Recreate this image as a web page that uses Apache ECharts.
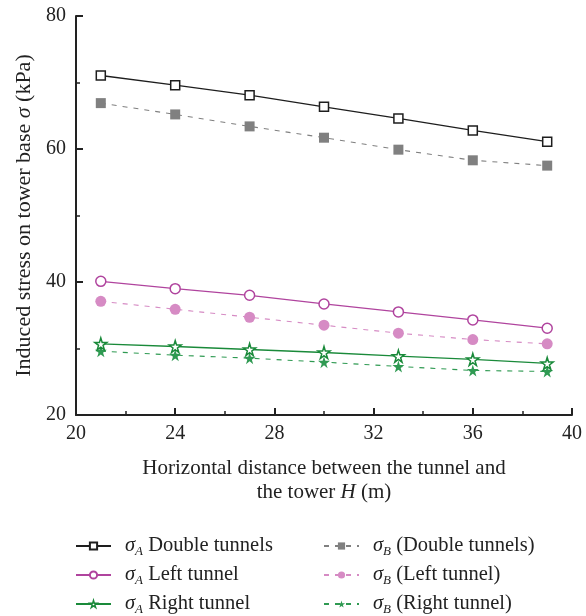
<!DOCTYPE html>
<html>
<head>
<meta charset="utf-8">
<script src="https://cdn.jsdelivr.net/npm/echarts@6/dist/echarts.min.js"></script>
<style>
  html, body { margin: 0; padding: 0; background: #fff; }
  #main { width: 586px; height: 616px; }
</style>
</head>
<body>
<div id="main"></div>
<script>
// distance H (m)
const distances = [21, 24, 27, 30, 33, 36, 39];

// sigma A (solid lines)
const aDouble = [71.05, 69.6, 68.1, 66.35, 64.6, 62.8, 61.1];
const aLeft = [40.1, 39.0, 38.0, 36.7, 35.5, 34.3, 33.05];
const aRight = [30.7, 30.3, 29.85, 29.4, 28.85, 28.35, 27.75];

// sigma B (dashed lines)
const bDouble = [66.9, 65.2, 63.4, 61.7, 59.9, 58.3, 57.5];
const bLeft = [37.1, 35.9, 34.7, 33.5, 32.3, 31.35, 30.7];
const bRight = [29.6, 29.0, 28.55, 27.95, 27.3, 26.7, 26.55];

const xTicks = [20, 24, 28, 32, 36, 40];
const yTicks = [20, 40, 60, 80];

const FONT = 'Liberation Serif';
const STAR = 'path://M50,0 L61,35 L98,35 L68,57 L79,91 L50,70 L21,91 L32,57 L2,35 L39,35 Z';

const pairs = (ys) => distances.map((x, i) => [x, ys[i]]);

// rich text pieces (s = italic symbol, sub = subscript, t = plain)
function richSet(size, lh) {
  return {
    s: { fontFamily: FONT, fontStyle: 'italic', fontSize: size, color: '#222', lineHeight: lh },
    s0: { fontFamily: FONT, fontStyle: 'italic', fontSize: size, color: '#222', lineHeight: lh, padding: [0, 0, 0, 9] },
    sub: { fontFamily: FONT, fontStyle: 'italic', fontSize: 13, color: '#222', lineHeight: lh, padding: [11, 0, 0, 0] },
    t: { fontFamily: FONT, fontSize: size, color: '#222', lineHeight: lh },
  };
}

function solid(name, data, color, symbol, size) {
  return {
    name, type: 'line', data: pairs(data),
    symbol, symbolSize: size,
    lineStyle: { color, width: 1.3, type: 'solid' },
    itemStyle: { color: '#fff', borderColor: color, borderWidth: 1.5 },
    z: 3,
  };
}

function dashed(name, data, color, symbol, size) {
  return {
    name, type: 'line', data: pairs(data),
    symbol, symbolSize: size,
    lineStyle: { color, width: 1.1, type: [5, 6] },
    itemStyle: { color, borderWidth: 0 },
    z: 2,
  };
}

const chart = echarts.init(document.getElementById('main'));

const legendBase = {
  orient: 'vertical',
  top: 534,
  height: 120,
  itemWidth: 35,
  itemHeight: 9,
  itemGap: 5,
  padding: 0,
  textStyle: { fontFamily: FONT, fontSize: 20.5, color: '#222', rich: richSet(20.5, 21) },
};

const option = {
  backgroundColor: '#fff',
  animation: false,
  grid: { left: 76, right: 14, top: 16, bottom: 201, containLabel: false },
  xAxis: {
    type: 'value', min: 20, max: 40, interval: 4,
    name: '{t|Horizontal distance between the tunnel and}\n{t|the tower }{s|H}{t| (m)}',
    nameLocation: 'middle', nameGap: 41,
    nameTextStyle: { lineHeight: 24, rich: richSet(21, 24) },
    axisLine: { lineStyle: { color: '#222', width: 2 } },
    axisTick: { inside: true, length: 7, lineStyle: { color: '#222', width: 2 } },
    minorTick: { show: true, splitNumber: 2, length: 4, lineStyle: { color: '#222', width: 1.5 } },
    axisLabel: { fontFamily: FONT, fontSize: 20, color: '#222', margin: 9,
      formatter: (v) => xTicks.includes(v) ? String(v) : '' },
    splitLine: { show: false },
  },
  yAxis: {
    type: 'value', min: 20, max: 80, interval: 20,
    name: '{t|Induced stress on tower base }{s|σ}{t| (kPa)}',
    nameLocation: 'middle', nameGap: 41, nameRotate: 90,
    nameTextStyle: { rich: richSet(22, 22) },
    axisLine: { show: true, lineStyle: { color: '#222', width: 2 } },
    axisTick: { show: true, inside: true, length: 7, lineStyle: { color: '#222', width: 2 } },
    minorTick: { show: true, splitNumber: 2, length: 4, lineStyle: { color: '#222', width: 1.5 } },
    axisLabel: { fontFamily: FONT, fontSize: 20, color: '#222', margin: 10,
      formatter: (v) => yTicks.includes(v) ? String(v) : '' },
    splitLine: { show: false },
  },
  legend: [
    Object.assign({}, legendBase, {
      left: 75,
      data: [
        'A Double tunnels',
        'A Left tunnel',
        { name: 'A Right tunnel', itemStyle: { color: '#fff', borderColor: '#1a8a3a', borderWidth: 1.5 } },
      ],
      formatter: (n) => '{s0|σ}{sub|A}{t| ' + n.slice(2) + '}',
    }),
    Object.assign({}, legendBase, {
      left: 323,
      data: ['B (Double tunnels)', 'B (Left tunnel)', 'B (Right tunnel)'],
      formatter: (n) => '{s0|σ}{sub|B}{t| ' + n.slice(2) + '}',
    }),
  ],
  series: [
    solid('A Double tunnels', aDouble, '#1e1e1e', 'rect', 9),
    solid('A Left tunnel', aLeft, '#b0449e', 'circle', 10),
    solid('A Right tunnel', aRight, '#1a8a3a', STAR, 12),
    dashed('B (Double tunnels)', bDouble, '#808080', 'rect', 10),
    dashed('B (Left tunnel)', bLeft, '#d68bc4', 'circle', 11),
    dashed('B (Right tunnel)', bRight, '#2f9a52', STAR, 12),
  ],
};

chart.setOption(option);
</script>
</body>
</html>
